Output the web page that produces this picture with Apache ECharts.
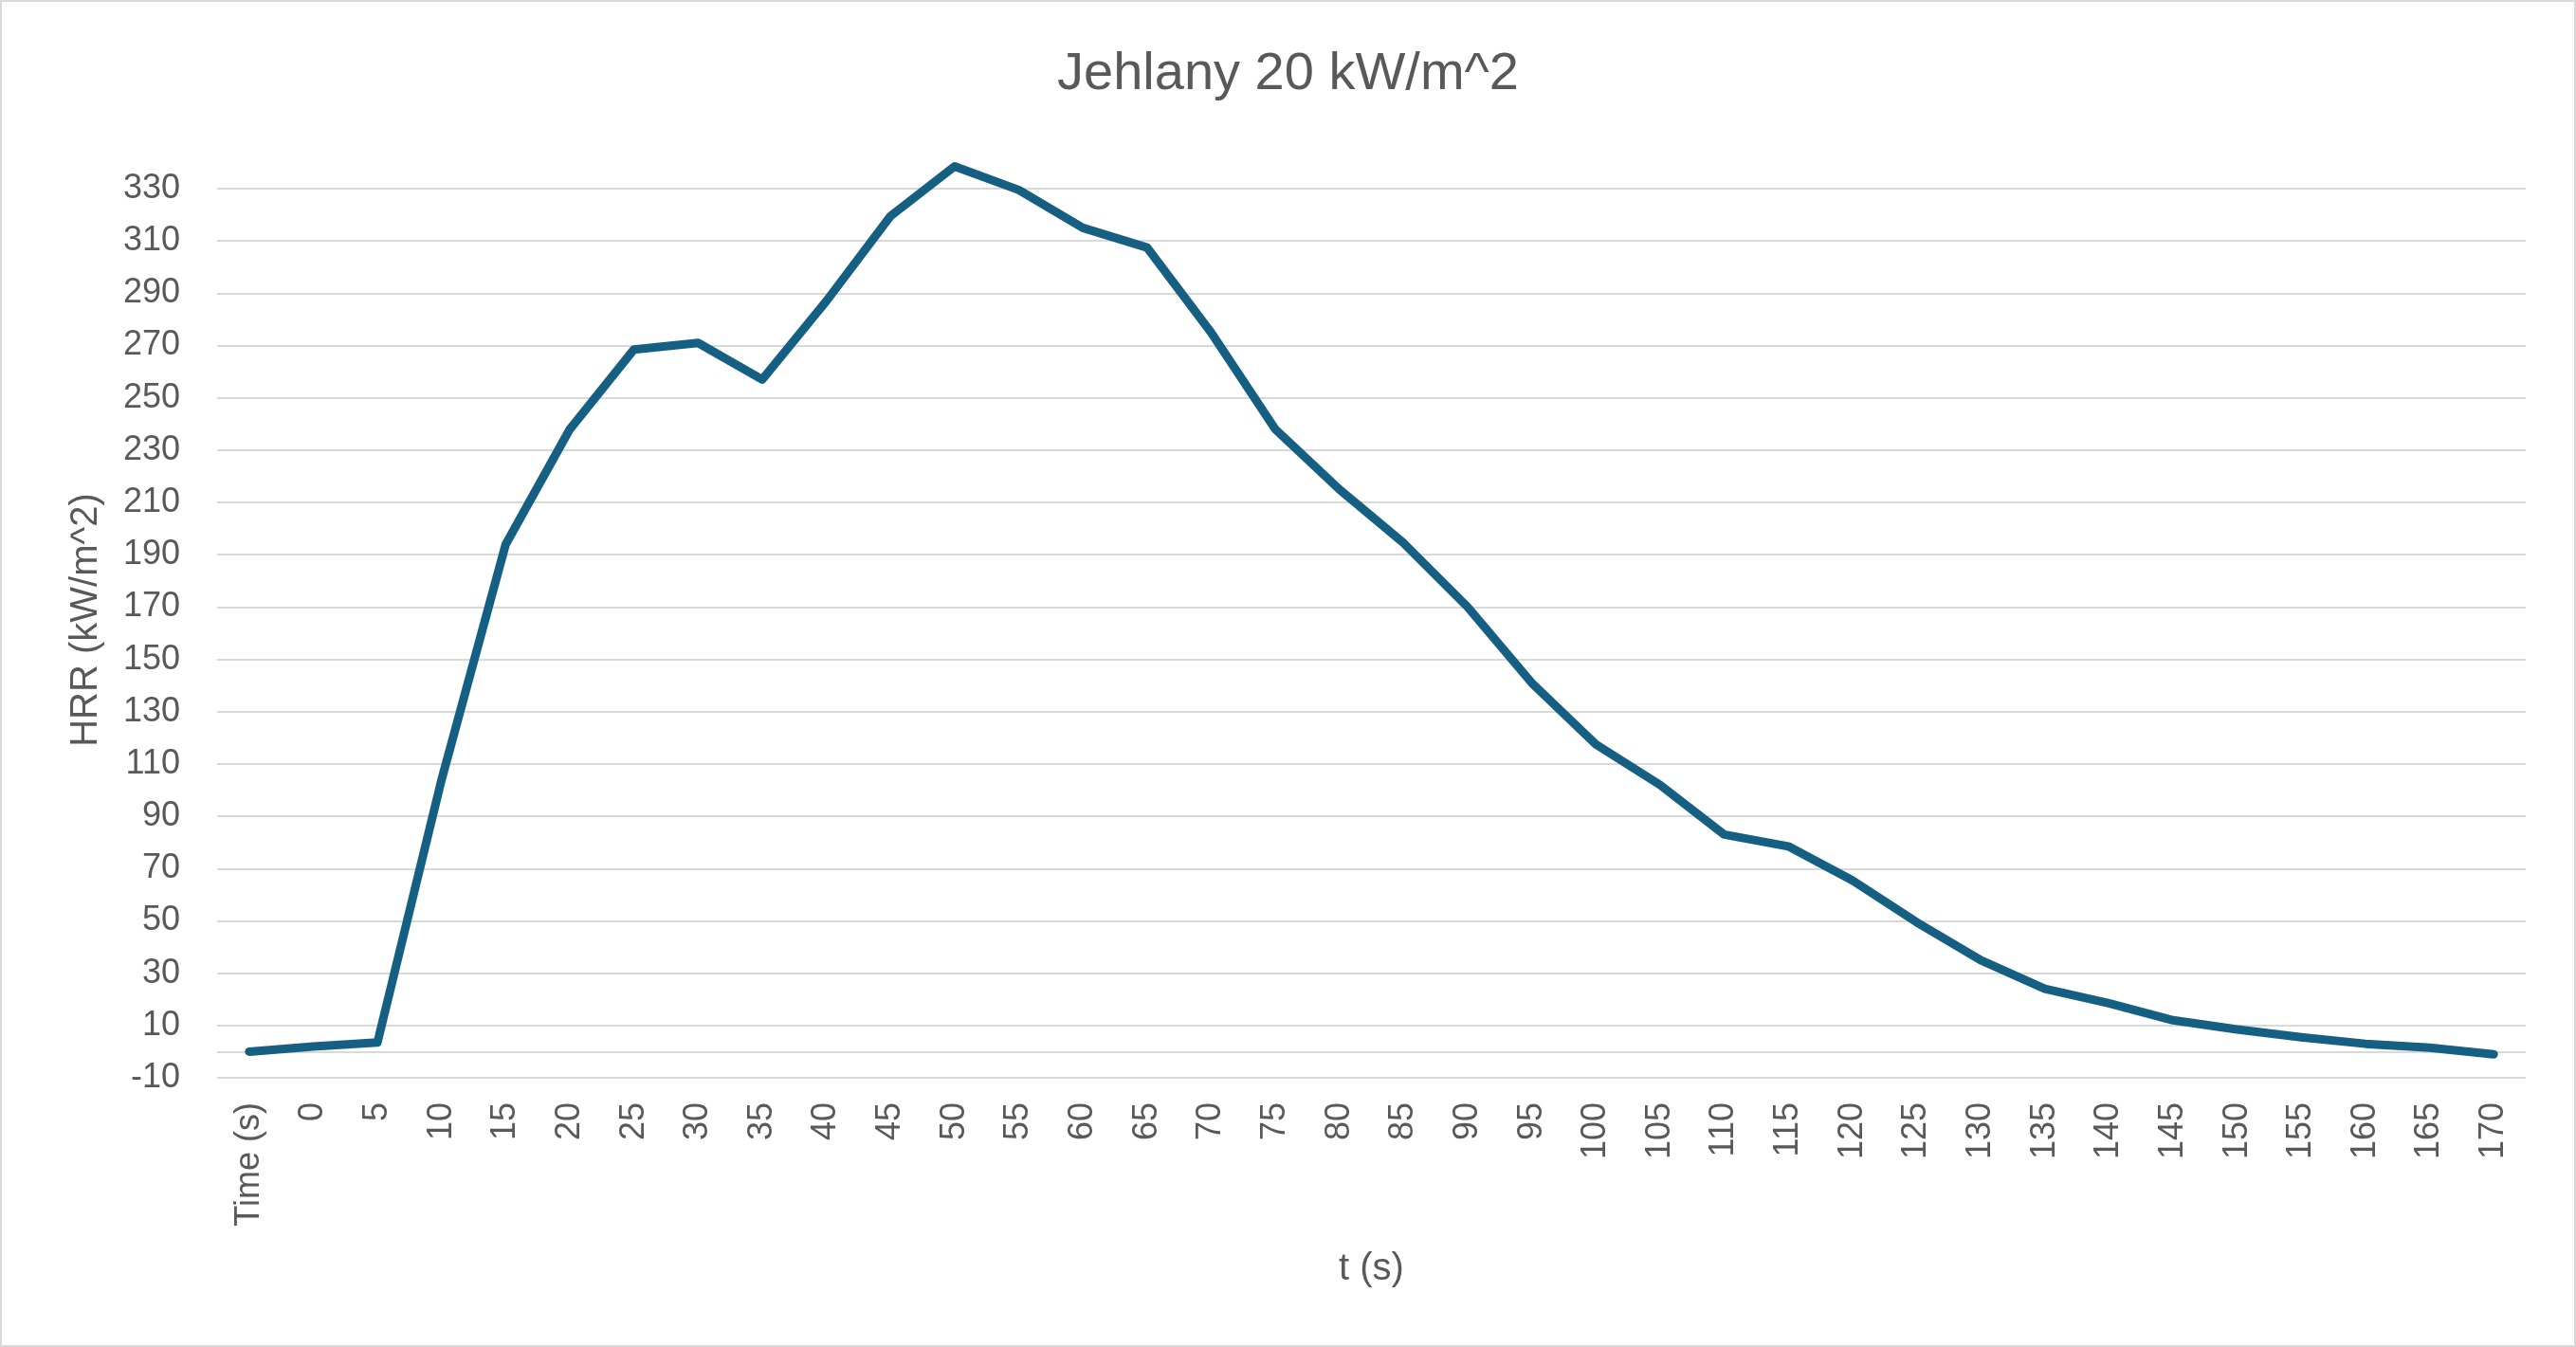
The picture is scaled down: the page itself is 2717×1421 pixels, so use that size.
<!DOCTYPE html>
<html>
<head>
<meta charset="utf-8">
<script src="https://cdn.jsdelivr.net/npm/echarts@6/dist/echarts.min.js"></script>
<style>
  html, body { margin: 0; padding: 0; background: #ffffff; }
  #chart { width: 2717px; height: 1421px; }
</style>
</head>
<body>
<div id="chart"></div>
<script>
const titleText = "Jehlany 20 kW/m^2";
const xAxisName = "t (s)";
const yAxisName = "HRR (kW/m^2)";
const categories = ["Time (s)", "0", "5", "10", "15", "20", "25", "30", "35", "40", "45", "50", "55", "60", "65", "70", "75", "80", "85", "90", "95", "100", "105", "110", "115", "120", "125", "130", "135", "140", "145", "150", "155", "160", "165", "170"];
const hrrValues = [0, 2, 3.5, 104, 194, 238, 268.5, 271, 257, 287, 319.5, 338.5, 329.5, 315, 307.5, 275, 238, 215, 194.5, 170, 141, 117.5, 102, 83, 78.5, 65.5, 49.5, 35, 24, 18.5, 12, 8.5, 5.5, 3, 1.5, -1];
const yMin = -10;
const yMax = 330;
const yStep = 20;

const textColor = '#595959';
const gridColor = '#d9d9d9';
const font = "'Liberation Sans', Arial, sans-serif";

const chart = echarts.init(document.getElementById('chart'), null, { renderer: 'canvas' });
chart.setOption({
  animation: false,
  backgroundColor: '#ffffff',
  title: {
    text: titleText,
    left: 'center',
    top: 46,
    textStyle: { color: textColor, fontSize: 56, fontWeight: 'normal', fontFamily: font }
  },
  graphic: [{
    type: 'rect',
    shape: { x: 1, y: 1, width: 2715, height: 1419 },
    style: { fill: 'none', stroke: gridColor, lineWidth: 2 },
    silent: true
  }],
  grid: { left: 229, right: 53, top: 199, bottom: 284 },
  xAxis: {
    type: 'category',
    data: categories,
    boundaryGap: true,
    name: xAxisName,
    nameLocation: 'middle',
    nameGap: 182,
    nameTextStyle: { color: textColor, fontSize: 40, fontFamily: font },
    axisLine: { show: false, onZero: false },
    axisTick: { show: false },
    axisLabel: { interval: 0, rotate: 90, margin: 26, color: textColor, fontSize: 36, fontFamily: font },
    splitLine: { show: false }
  },
  yAxis: {
    type: 'value',
    min: yMin,
    max: yMax,
    interval: yStep,
    name: yAxisName,
    nameLocation: 'middle',
    nameRotate: 90,
    nameGap: 118,
    nameTextStyle: { color: textColor, fontSize: 40, fontFamily: font, padding: [0, 0, 0, 28] },
    axisLine: { show: false },
    axisTick: { show: false },
    axisLabel: { margin: 39, color: textColor, fontSize: 36, fontFamily: font },
    splitLine: { show: true, lineStyle: { color: gridColor, width: 2 } }
  },
  series: [{
    type: 'line',
    data: hrrValues,
    clip: false,
    showSymbol: false,
    symbol: 'none',
    lineStyle: { color: '#156082', width: 9, cap: 'round', join: 'round' },
    itemStyle: { color: '#156082' },
    z: 5,
    markLine: {
      silent: true,
      symbol: ['none', 'none'],
      label: { show: false },
      lineStyle: { color: gridColor, width: 2, type: 'solid' },
      z: 1,
      data: [{ yAxis: 0 }]
    }
  }]
});
</script>
</body>
</html>
